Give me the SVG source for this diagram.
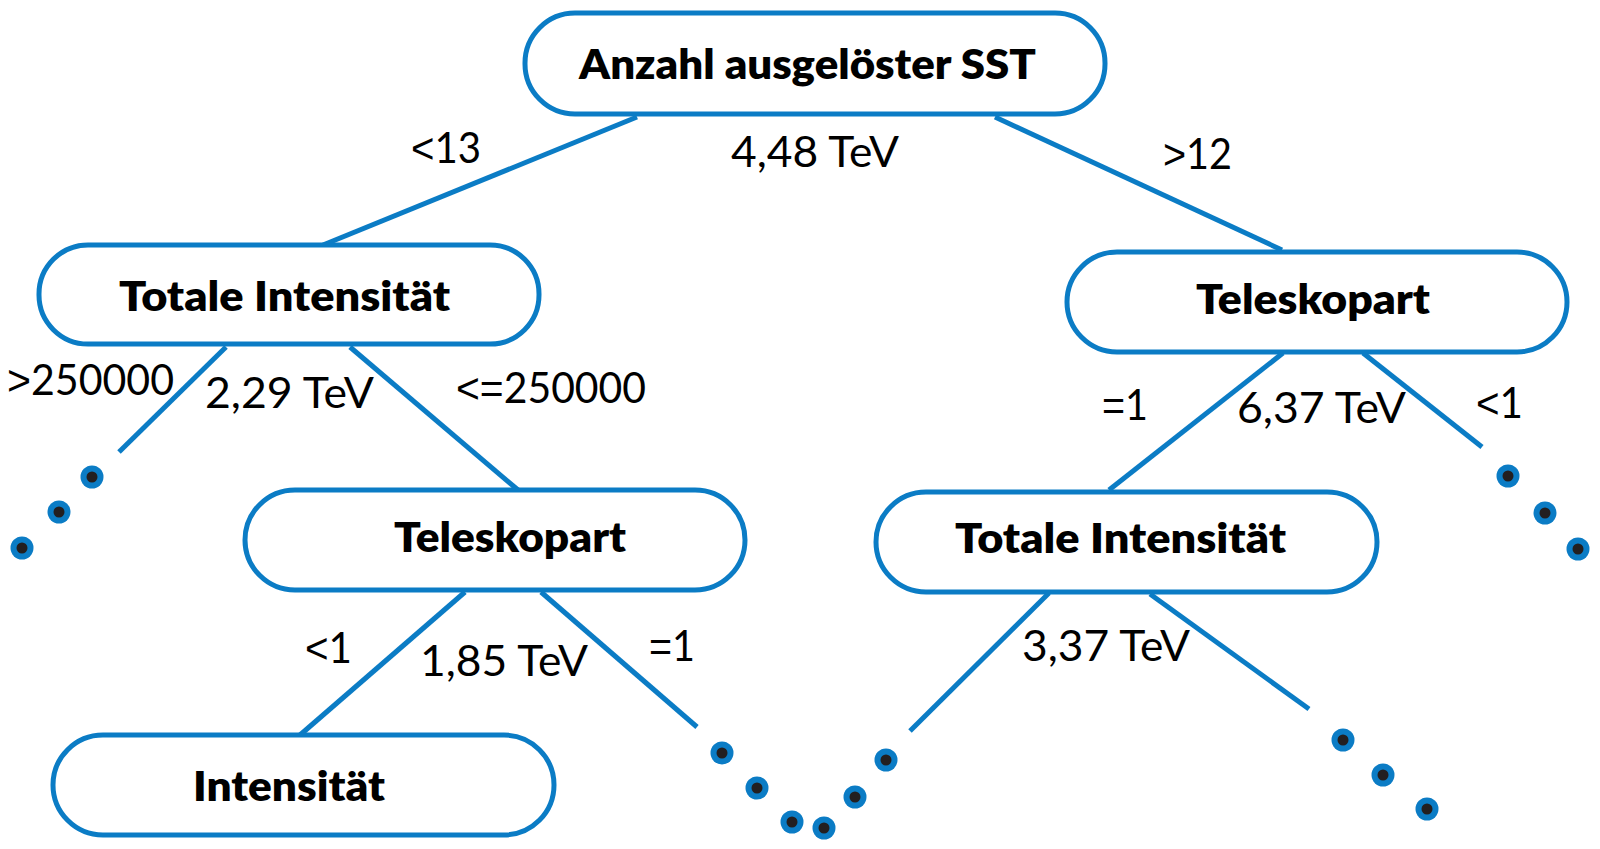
<svg xmlns="http://www.w3.org/2000/svg" width="1600" height="849" viewBox="0 0 1600 849">
<style>
.node{fill:#fff;stroke:#0b7cc5;stroke-width:5}
.edge{stroke:#0b7cc5;stroke-width:5;fill:none}
.nt{font-family:Lato,"Liberation Sans",sans-serif;font-weight:800;font-size:42px;fill:#000}
.et{font-family:Lato,"Liberation Sans",sans-serif;font-weight:400;font-size:43px;fill:#000}
.op{font-family:"Liberation Sans",sans-serif}
.dot{fill:#0b7cc5}
.dc{fill:#231f20}
</style>
<defs>
<g id="d"><circle class="dot" r="11.5"/><circle class="dc" r="5.5"/></g>
</defs>
<rect width="1600" height="849" fill="#fff"/>
<g id="connectors">
<line class="edge" x1="637" y1="117" x2="323" y2="245"/>
<line class="edge" x1="995" y1="117" x2="1282" y2="250"/>
<line class="edge" x1="226" y1="347" x2="119" y2="452"/>
<line class="edge" x1="350" y1="347" x2="518" y2="490"/>
<line class="edge" x1="1283" y1="353" x2="1109" y2="490"/>
<line class="edge" x1="1363" y1="353" x2="1482" y2="447"/>
<line class="edge" x1="465" y1="592" x2="300" y2="735"/>
<line class="edge" x1="541" y1="592" x2="697" y2="727"/>
<line class="edge" x1="1049" y1="593" x2="910" y2="731"/>
<line class="edge" x1="1150" y1="594" x2="1309" y2="709"/>
</g>
<g id="edge-labels">
<text class="et" x="411" y="163" textLength="70" lengthAdjust="spacingAndGlyphs"><tspan class="op">&lt;</tspan>13</text>
<text class="et" x="731" y="167" textLength="168" lengthAdjust="spacingAndGlyphs">4,48 TeV</text>
<text class="et" x="1163" y="169" textLength="69" lengthAdjust="spacingAndGlyphs"><tspan class="op">&gt;</tspan>12</text>
<text class="et" x="7" y="395" textLength="167" lengthAdjust="spacingAndGlyphs"><tspan class="op">&gt;</tspan>250000</text>
<text class="et" x="205" y="408" textLength="169" lengthAdjust="spacingAndGlyphs">2,29 TeV</text>
<text class="et" x="456" y="403" textLength="190" lengthAdjust="spacingAndGlyphs"><tspan class="op">&lt;=</tspan>250000</text>
<text class="et" x="1102" y="420" textLength="46" lengthAdjust="spacingAndGlyphs"><tspan class="op">=</tspan>1</text>
<text class="et" x="1237" y="423" textLength="169" lengthAdjust="spacingAndGlyphs">6,37 TeV</text>
<text class="et" x="1476" y="418" textLength="47" lengthAdjust="spacingAndGlyphs"><tspan class="op">&lt;</tspan>1</text>
<text class="et" x="305" y="663" textLength="47" lengthAdjust="spacingAndGlyphs"><tspan class="op">&lt;</tspan>1</text>
<text class="et" x="420" y="676" textLength="168" lengthAdjust="spacingAndGlyphs">1,85 TeV</text>
<text class="et" x="649" y="661" textLength="46" lengthAdjust="spacingAndGlyphs"><tspan class="op">=</tspan>1</text>
<text class="et" x="1022" y="661" textLength="168" lengthAdjust="spacingAndGlyphs">3,37 TeV</text>
</g>
<g id="root">
<rect class="node" x="525" y="13" width="580" height="101" rx="50"/>
<text class="nt" x="579" y="79" textLength="457" lengthAdjust="spacingAndGlyphs">Anzahl ausgelöster SST</text>
</g>
<g id="totale-left">
<rect class="node" x="39" y="245" width="500" height="99" rx="49"/>
<text class="nt" x="119" y="311" textLength="331" lengthAdjust="spacingAndGlyphs">Totale Intensität</text>
</g>
<g id="teleskopart-right">
<rect class="node" x="1067" y="252" width="500" height="100" rx="50"/>
<text class="nt" x="1196" y="314" textLength="234" lengthAdjust="spacingAndGlyphs">Teleskopart</text>
</g>
<g id="teleskopart-mid">
<rect class="node" x="245" y="490" width="500" height="100" rx="50"/>
<text class="nt" x="394" y="552" textLength="232" lengthAdjust="spacingAndGlyphs">Teleskopart</text>
</g>
<g id="totale-right">
<rect class="node" x="876" y="492" width="501" height="100" rx="50"/>
<text class="nt" x="955" y="553" textLength="331" lengthAdjust="spacingAndGlyphs">Totale Intensität</text>
</g>
<g id="intensitaet">
<rect class="node" x="53" y="735" width="501" height="100" rx="50"/>
<text class="nt" x="193" y="801" textLength="192" lengthAdjust="spacingAndGlyphs">Intensität</text>
</g>
<g id="dots">
<use href="#d" x="92" y="477"/>
<use href="#d" x="59" y="512"/>
<use href="#d" x="22" y="548"/>
<use href="#d" x="722" y="753"/>
<use href="#d" x="757" y="788"/>
<use href="#d" x="792" y="822"/>
<use href="#d" x="824" y="828"/>
<use href="#d" x="855" y="797"/>
<use href="#d" x="886" y="760"/>
<use href="#d" x="1343" y="740"/>
<use href="#d" x="1383" y="775"/>
<use href="#d" x="1427" y="809"/>
<use href="#d" x="1508" y="476"/>
<use href="#d" x="1545" y="513"/>
<use href="#d" x="1578" y="549"/>
</g>
</svg>
